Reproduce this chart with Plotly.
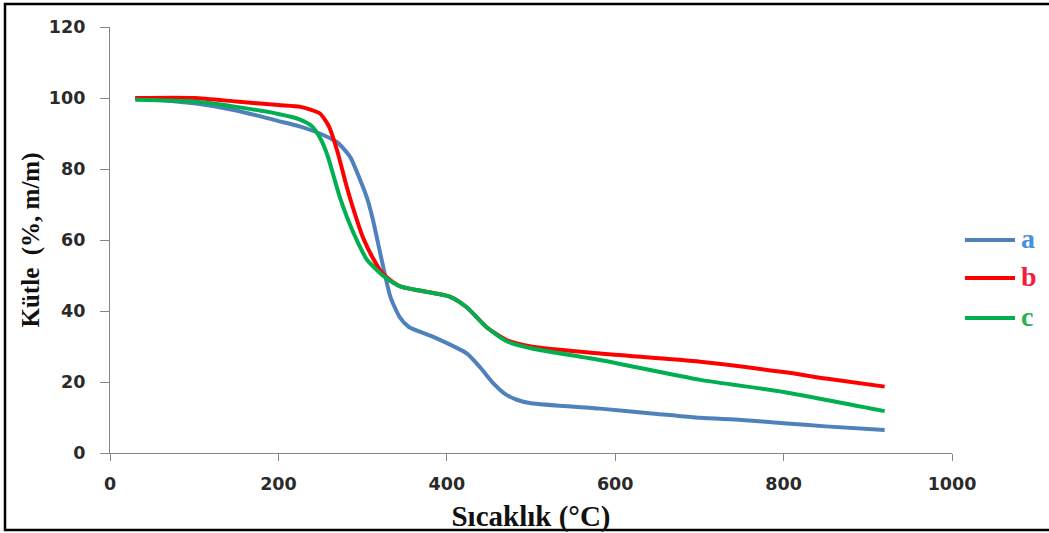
import plotly.graph_objects as go

# Data
a_x = [30, 100, 150, 200, 225, 249, 270, 285, 297, 305, 312, 323, 333, 344, 355, 384, 424, 440, 455, 470, 483, 500, 582, 650, 701, 750, 800, 850, 920]
a_y = [100, 98.5, 96.5, 93.5, 92, 90, 87.5, 83.5, 77, 72, 66, 54, 44, 38.3, 35.5, 32.7, 28, 24, 19.7, 16.5, 15, 14, 12.5, 11, 9.9, 9.3, 8.4, 7.5, 6.5]

b_x = [30, 100, 150, 200, 226, 249, 260, 270, 280, 290, 300, 312, 324, 344, 404, 424, 447, 471, 500, 582, 701, 800, 850, 920]
b_y = [100, 100, 99, 98, 97.5, 95.7, 92, 85, 76, 68, 61, 55, 50.5, 47, 44, 41, 35.5, 31.8, 30, 28, 25.7, 22.8, 21, 18.7]

c_x = [30, 100, 150, 200, 225, 240, 250, 258, 265, 273, 283, 293, 305, 324, 344, 404, 424, 447, 471, 500, 582, 701, 800, 920]
c_y = [99.5, 99, 97.5, 95.5, 94, 92, 88.5, 84, 78.5, 72, 65.5, 60, 54.5, 50, 47, 44, 41, 35.5, 31.5, 29.5, 26.2, 20.6, 17.2, 11.8]

series_names = ["a", "b", "c"]
series_colors = ["#4F81BD", "#FF0000", "#00B050"]
label_colors = ["#4A90D9", "#F0203A", "#2BB04A"]

x_ticks = [0, 200, 400, 600, 800, 1000]
y_ticks = [0, 20, 40, 60, 80, 100, 120]

fig = go.Figure()
for xs, ys, name, col in zip([a_x, b_x, c_x], [a_y, b_y, c_y], series_names, series_colors):
    fig.add_trace(go.Scatter(x=xs, y=ys, mode="lines", name=name,
                             line=dict(color=col, width=4, shape="spline", smoothing=0.6),
                             showlegend=False))

axis_gray = "#868686"
tickfont = dict(family="DejaVu Sans", size=17.5, color="#2a2a2a", weight="bold")

fig.update_xaxes(range=[0, 1000], tickvals=x_ticks, ticktext=[str(v) for v in x_ticks],
                 showline=True, linecolor=axis_gray, linewidth=1.3,
                 ticks="outside", ticklen=7, tickcolor=axis_gray, tickwidth=1.3,
                 ticklabelstandoff=8, automargin=False,
                 showgrid=False, zeroline=False, tickfont=tickfont,
                 title=dict(text="Sıcaklık (°C)",
                            font=dict(family="Liberation Serif", size=29, color="#111111", weight="bold"),
                            standoff=16))
fig.update_yaxes(range=[0, 120], tickvals=y_ticks, ticktext=[str(v) for v in y_ticks],
                 showline=True, linecolor=axis_gray, linewidth=1.3,
                 ticks="outside", ticklen=9, tickcolor=axis_gray, tickwidth=1.3,
                 ticklabelstandoff=11, automargin=False,
                 showgrid=False, zeroline=False, tickfont=tickfont,
                 title=dict(text="Kütle  (%, m/m)",
                            font=dict(family="Liberation Serif", size=25, color="#111111", weight="bold"),
                            standoff=2))

# Manual legend (right side)
leg_y = [0.50, 0.411, 0.317]
for name, col, lcol, yy in zip(series_names, series_colors, label_colors, leg_y):
    fig.add_shape(type="line", xref="paper", yref="paper", x0=1.0154, x1=1.0748, y0=yy, y1=yy,
                  line=dict(color=col, width=4))
    fig.add_annotation(xref="paper", yref="paper", x=1.0795, y=yy + 0.004, text=name,
                       showarrow=False, xanchor="left", yanchor="middle",
                       font=dict(family="Liberation Serif", size=28, color=lcol, weight="bold"))

# Outer frame
fig.add_shape(type="rect", xref="paper", yref="paper", x0=-0.1247, x1=1.125, y0=-0.1808, y1=1.054,
              line=dict(color="black", width=2.5), fillcolor="rgba(0,0,0,0)")

fig.update_layout(width=1049, height=533, margin=dict(l=110, r=97, t=27, b=80, autoexpand=False),
                  paper_bgcolor="white", plot_bgcolor="white")

fig.write_html("out.html", config={"displayModeBar": False},
               post_script="document.body.style.margin='0';document.body.style.overflow='hidden';")
